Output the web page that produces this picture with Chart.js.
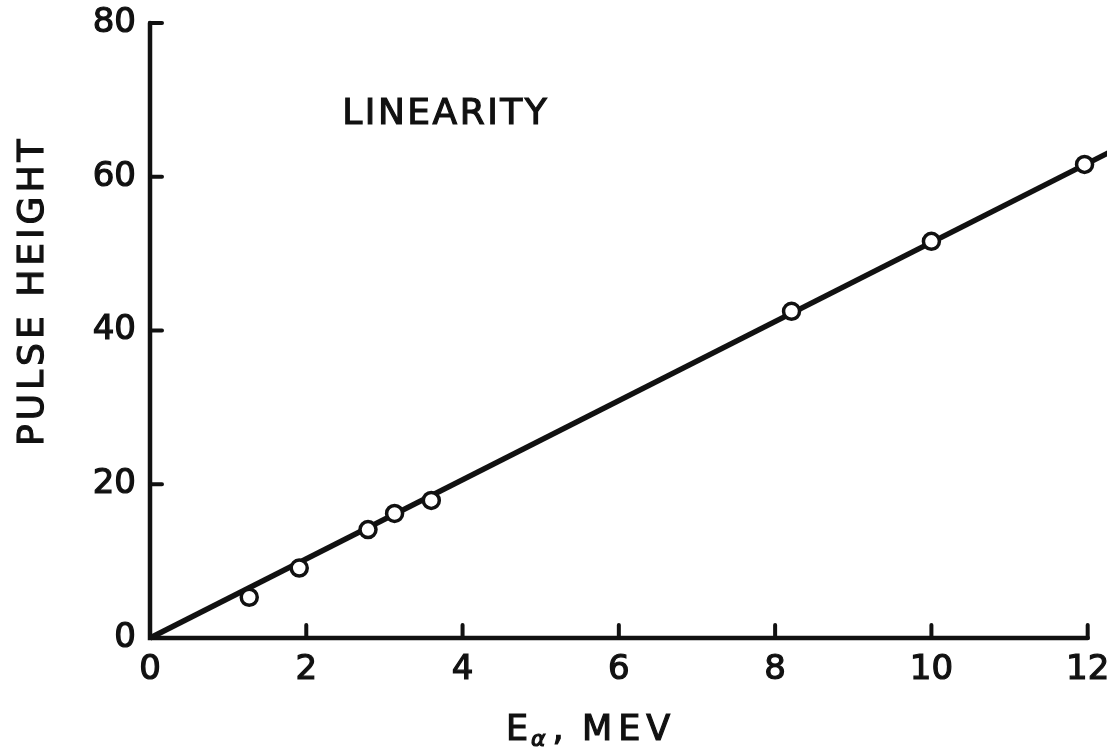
<!DOCTYPE html>
<html>
<head>
<meta charset="utf-8">
<script src="https://cdn.jsdelivr.net/npm/chart.js@4.4.1/dist/chart.umd.min.js"></script>
<style>
  html, body { margin: 0; padding: 0; background: #fff; }
  canvas { display: block; }
</style>
</head>
<body>
<canvas id="linChart" width="1107" height="751"></canvas>
<script>
// measured alpha energies (MeV) and the pulse heights they gave
var energy = [1.27, 1.91, 2.79, 3.13, 3.60, 8.21, 10.0, 11.96];
var pulse = [5.3, 9.1, 14.1, 16.2, 17.9, 42.5, 51.6, 61.6];
// straight line through the origin
var fitX = [0, 12.3];
var fitY = [0, 63.3];
var xTicks = [0, 2, 4, 6, 8, 10, 12];
var yTicks = [0, 20, 40, 60, 80];

var FONT = '"DejaVu Sans", sans-serif';
var INK = '#111';

function pairs(xs, ys) {
    return xs.map(function(x, i) { return { x: x, y: ys[i] }; });
}

// text with spacing, anchored at its left edge; a thin stroke gives the lettering weight
function spacedText(ctx, text, x, y, spacing) {
    ctx.letterSpacing = spacing + 'px';
    ctx.fillText(text, x, y);
    ctx.strokeText(text, x, y);
    var w = ctx.measureText(text).width;
    ctx.letterSpacing = '0px';
    return w;
}

var handAxes = {
    id: 'handAxes',
    beforeDatasetsDraw: function(chart) {
        var ctx = chart.ctx, xs = chart.scales.x, ys = chart.scales.y;
        var x0 = xs.getPixelForValue(0), y0 = ys.getPixelForValue(0);
        ctx.save();
        ctx.strokeStyle = INK;
        ctx.lineCap = 'round';
        ctx.lineWidth = 4.5;
        ctx.beginPath();
        ctx.moveTo(x0, ys.getPixelForValue(yTicks[yTicks.length - 1]));
        ctx.lineTo(x0, y0);
        ctx.lineTo(xs.getPixelForValue(xTicks[xTicks.length - 1]), y0);
        ctx.stroke();
        // short inward tick marks
        ctx.lineWidth = 4;
        ctx.beginPath();
        yTicks.slice(1).forEach(function(v) {
            var y = ys.getPixelForValue(v);
            ctx.moveTo(x0, y);
            ctx.lineTo(x0 + 12, y);
        });
        xTicks.slice(1).forEach(function(v) {
            var x = xs.getPixelForValue(v);
            ctx.moveTo(x, y0);
            ctx.lineTo(x, y0 - 13);
        });
        ctx.stroke();
        ctx.restore();
    },
    afterDraw: function(chart) {
        var ctx = chart.ctx, xs = chart.scales.x, ys = chart.scales.y;
        ctx.save();
        ctx.fillStyle = INK;
        ctx.strokeStyle = INK;
        ctx.lineWidth = 1.2;
        ctx.textBaseline = 'alphabetic';
        ctx.textAlign = 'left';

        // label inside the plot
        ctx.font = '36px ' + FONT;
        spacedText(ctx, 'LINEARITY', xs.getPixelForValue(2.46), ys.getPixelForValue(68.5) + 13, 2.5);

        // x axis title with subscript alpha
        var bx = 506, by = 740;
        ctx.font = '35px ' + FONT;
        var w = spacedText(ctx, 'E', bx, by, 0);
        ctx.font = 'italic 22px ' + FONT;
        var wa = spacedText(ctx, 'α', bx + w + 3, by + 6, 0);
        ctx.font = '35px ' + FONT;
        spacedText(ctx, ',', bx + w + wa + 10, by, 0);
        spacedText(ctx, 'MEV', 582, by, 6);

        // y axis title, rotated
        ctx.translate(43, 446);
        ctx.rotate(-Math.PI / 2);
        ctx.font = '36px ' + FONT;
        spacedText(ctx, 'PULSE HEIGHT', 0, 0, 4);
        ctx.restore();
    }
};

var tickFont = { family: FONT, size: 34 };

var ctx = document.getElementById('linChart').getContext('2d');
var chart = new Chart(ctx, {
    type: 'scatter',
    data: {
        datasets: [{
            label: 'Pulse height',
            data: pairs(energy, pulse),
            backgroundColor: '#fff',
            borderColor: INK,
            borderWidth: 3.5,
            pointRadius: 8,
            showLine: false
        }, {
            label: 'Fit',
            data: pairs(fitX, fitY),
            showLine: true,
            borderColor: INK,
            borderWidth: 5.5,
            pointRadius: 0,
            fill: false,
            clip: false
        }]
    },
    options: {
        responsive: false,
        animation: false,
        devicePixelRatio: 1,
        layout: { padding: { top: 23, right: 0, left: 0, bottom: 0 } },
        plugins: { legend: { display: false }, tooltip: { enabled: false } },
        scales: {
            x: {
                type: 'linear',
                min: 0,
                max: 12.1,
                grid: { display: false, drawTicks: false },
                border: { display: false },
                afterBuildTicks: function(s) {
                    s.ticks = xTicks.map(function(v) { return { value: v }; });
                },
                afterFit: function(s) {
                    s.height = 113;
                    s.paddingLeft = 0;
                    s.paddingRight = 0;
                },
                ticks: {
                    color: INK,
                    font: tickFont,
                    padding: 12,
                    maxRotation: 0,
                    autoSkip: false,
                    textStrokeColor: INK,
                    textStrokeWidth: 1.2
                }
            },
            y: {
                type: 'linear',
                min: 0,
                max: 80,
                grid: { display: false, drawTicks: false },
                border: { display: false },
                afterBuildTicks: function(s) {
                    s.ticks = yTicks.map(function(v) { return { value: v }; });
                },
                afterFit: function(s) {
                    s.width = 150;
                    s.paddingTop = 0;
                    s.paddingBottom = 0;
                },
                ticks: {
                    color: INK,
                    font: tickFont,
                    padding: 14,
                    textStrokeColor: INK,
                    textStrokeWidth: 1.2
                }
            }
        }
    },
    plugins: [handAxes]
});
</script>
</body>
</html>
